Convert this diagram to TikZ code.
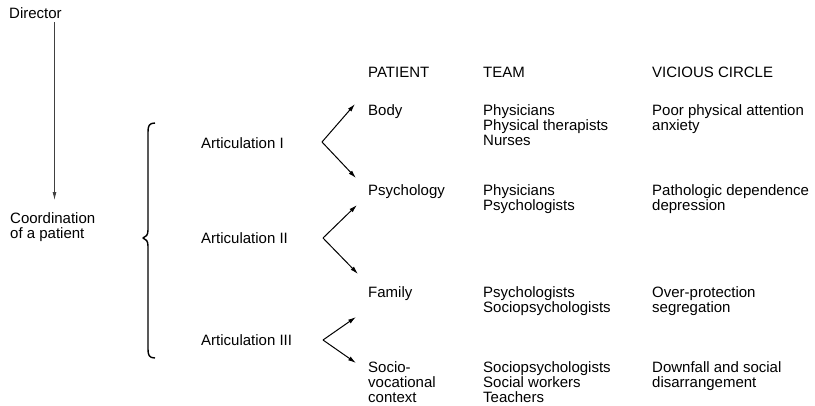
\documentclass[tikz,border=0pt]{standalone}
\usepackage{fontspec}
\setmainfont{Liberation Sans}
\usetikzlibrary{arrows.meta}
\begin{document}
\begin{tikzpicture}[x=1pt,y=-1pt,
  lbl/.style={anchor=north west, inner sep=0pt, align=left,
    font={\fontsize{15}{15}\selectfont\lineskiplimit=-100pt}},
  arr/.style={-{Latex[length=8pt,width=4.5pt]}, line width=1pt},
  brace/.style={line width=1.4pt, line join=round},
]
\useasboundingbox (0,0) rectangle (815,405);

% left column: director to coordination
\node[lbl] (dir) at (9,7) {Director};
\node[lbl] (coord) at (10,212) {Coordination\\of a patient};
\coordinate (dirTop) at (54.5,22);
\coordinate (dirBot) at (54.5,200);
\draw[-{Latex[length=8pt,width=4pt]}, line width=0.8pt, black!75] (dirTop) -- (dirBot);

% brace grouping the articulations
\coordinate (brTop) at (155,123);
\coordinate (brTip) at (143,238);
\coordinate (brBot) at (155,358);
\draw[brace] (brTop) .. controls (149,123) and (148,126) .. (148,132)
  -- (148,230) .. controls (148,235) and (146,237) .. (brTip)
  .. controls (146,239) and (148,241) .. (148,246)
  -- (148,349) .. controls (148,355) and (149,358) .. (brBot);

% articulation labels
\node[lbl] (art1) at (201,137) {Articulation I};
\node[lbl] (art2) at (201,232.5) {Articulation II};
\node[lbl] (art3) at (201,334.5) {Articulation III};

% column headers
\node[lbl] (hPat) at (368,66.5) {PATIENT};
\node[lbl] (hTeam) at (483,66.5) {TEAM};
\node[lbl] (hVic) at (652,66.5) {VICIOUS CIRCLE};

% rows
\node[lbl] (pBody) at (368,104.5) {Body};
\node[lbl] (tBody) at (483,104.5) {Physicians\\Physical therapists\\Nurses};
\node[lbl] (vBody) at (652,104.5) {Poor physical attention\\anxiety};

\node[lbl] (pPsy) at (368,184.5) {Psychology};
\node[lbl] (tPsy) at (483,184.5) {Physicians\\Psychologists};
\node[lbl] (vPsy) at (652,184.5) {Pathologic dependence\\depression};

\node[lbl] (pFam) at (368,286.5) {Family};
\node[lbl] (tFam) at (483,286.5) {Psychologists\\Sociopsychologists};
\node[lbl] (vFam) at (652,286.5) {Over-protection\\segregation};

\node[lbl] (pSoc) at (368,361) {Socio-\\vocational\\context};
\node[lbl] (tSoc) at (483,361) {Sociopsychologists\\Social workers\\Teachers};
\node[lbl] (vSoc) at (652,361) {Downfall and social\\disarrangement};

% branching arrows
\coordinate (v1) at (322,142);
\coordinate (v1u) at (355,104);
\coordinate (v1d) at (356,178);
\coordinate (v2) at (323,238);
\coordinate (v2u) at (357,205);
\coordinate (v2d) at (358,274);
\coordinate (v3) at (323,340);
\coordinate (v3u) at (356,317);
\coordinate (v3d) at (356,363);
\draw[arr] (v1) -- (v1u);
\draw[arr] (v1) -- (v1d);
\draw[arr] (v2) -- (v2u);
\draw[arr] (v2) -- (v2d);
\draw[arr] (v3) -- (v3u);
\draw[arr] (v3) -- (v3d);
\end{tikzpicture}
\end{document}
